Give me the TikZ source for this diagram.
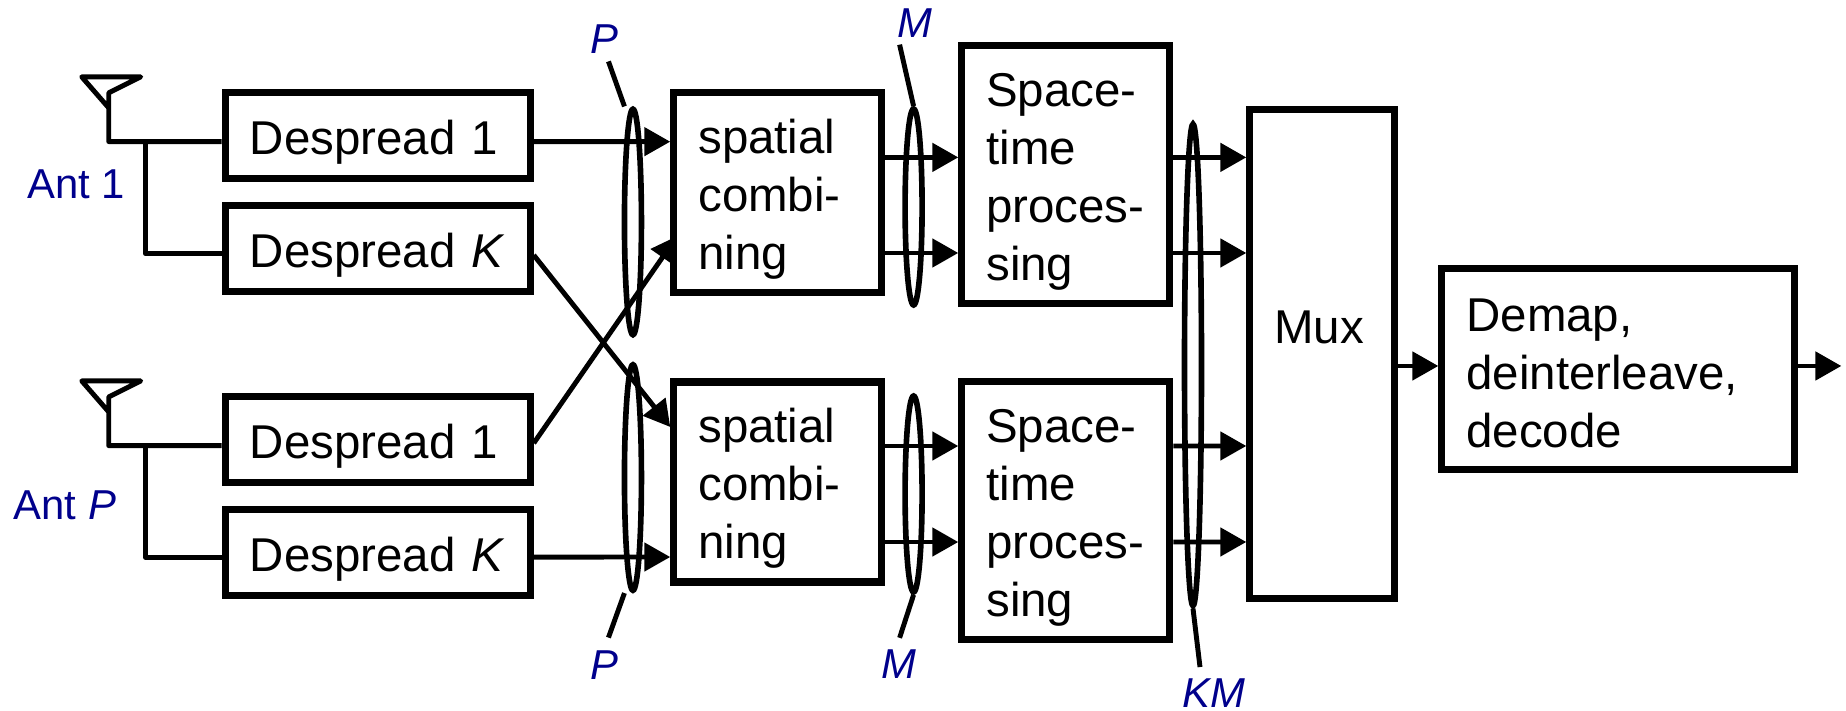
\documentclass[tikz,border=0pt]{standalone}
\usepackage{fontspec}
\setmainfont{Liberation Sans}
\usepackage{tikz}
\usepackage{xcolor}
\usetikzlibrary{positioning, calc, arrows.meta, shapes.geometric, backgrounds}
\definecolor{antblue}{RGB}{0,0,140}

\begin{document}
\begin{tikzpicture}[
        % Style definitions
        block/.style={
            rectangle,
            draw=black,
            line width=2pt,
            inner xsep=0.245cm,
            inner ysep=0pt,
            align=left,
            fill=white,
            font=\fontsize{13.5}{16.5}\selectfont,
            execute at begin node={\rule{0pt}{#1}}
        },
        block/.default=13.5pt,
        wire/.style={
            line width=1.4pt,
            line join=round
        },
        arrow/.style={
            -{Triangle[length=0.26cm, width=0.28cm]},
            line width=1.4pt
        },
        bundle/.style={
            ellipse,
            draw=black,
            line width=1.6pt,
            inner sep=0pt,
            minimum width=0.17cm
        },
        tag/.style={
            inner sep=0pt,
            text=antblue,
            font=\fontsize{11.9}{14}\selectfont
        }
    ]
        \useasboundingbox (0,0) rectangle (18.46,7.11);

        % ==========================================
        % Nodes / Blocks Placement
        % ==========================================
        % Despreaders of both antennas
        \node (dsp1a) at (3.7775,5.754) [block, text width=2.56cm, minimum height=0.86cm] {Despread 1};
        \node (dspka) [block, text width=2.56cm, minimum height=0.86cm, below=0.2cm of dsp1a] {Despread \textit{K}};
        \node (dsp1b) [block, text width=2.56cm, minimum height=0.86cm, below=0.98cm of dspka] {Despread 1};
        \node (dspkb) [block, text width=2.56cm, minimum height=0.86cm, below=0.2cm of dsp1b] {Despread \textit{K}};

        % Spatial combining blocks
        \node (spata) [block, text width=1.59cm, minimum height=2cm, right=1.365cm of dsp1a, yshift=-0.574cm] {spatial\\combi-\\ning};
        \node (spatb) [block, text width=1.59cm, minimum height=2cm, below=0.82cm of spata] {spatial\\combi-\\ning};

        % Space-time blocks
        \node (sta) [block, text width=1.59cm, minimum height=2.58cm, right=0.73cm of spata, yshift=0.185cm] {Space-\\time\\proces-\\sing};
        \node (stb) [block, text width=1.59cm, minimum height=2.58cm, below=0.71cm of sta] {Space-\\time\\proces-\\sing};

        % Mux and the last block
        \node (mux) [block=10.8pt, text width=0.96cm, minimum height=4.89cm, right=0.73cm of sta, yshift=-1.795cm] {Mux\\~};
        \node (demap) [block=11.8pt, text width=3.04cm, minimum height=2.01cm, right=0.4cm of mux, yshift=-0.15cm] {Demap,\\deinterleave,\\decode};

        % Bundles
        \node (bunpa) [bundle, minimum height=2.255cm, left=0.26cm of spata, yshift=-0.29cm] {};
        \node (bunpb) [bundle, minimum height=2.255cm, left=0.26cm of spatb, yshift=0.045cm] {};
        \node (bunma) [bundle, minimum height=1.96cm, right=0.17cm of spata, yshift=-0.14cm] {};
        \node (bunmb) [bundle, minimum height=1.96cm, right=0.17cm of spatb, yshift=-0.12cm] {};
        \node (bunkm) [bundle, minimum height=4.815cm, left=0.42cm of mux, yshift=-0.11cm] {};

        % Bundle labels
        \node (lblpa) [tag, above=0.52cm of bunpa, xshift=-0.285cm] {\textit{P}};
        \node (lblpb) [tag, below=0.565cm of bunpb, xshift=-0.285cm] {\textit{P}};
        \node (lblma) [tag, above=0.675cm of bunma, xshift=0.015cm] {\textit{M}};
        \node (lblmb) [tag, below=0.54cm of bunmb, xshift=-0.145cm] {\textit{M}};
        \node (lblkm) [tag, below=0.695cm of bunkm, xshift=0.21cm] {\textit{KM}};

        % Antenna feet and branch points
        \coordinate (anta) at ([xshift=-1.13cm, yshift=-0.06cm]dsp1a.west);
        \coordinate (antb) at ([xshift=-1.13cm, yshift=-0.06cm]dsp1b.west);
        \coordinate (joina) at ([xshift=-0.765cm, yshift=-0.06cm]dsp1a.west);
        \coordinate (joinb) at ([xshift=-0.765cm, yshift=-0.06cm]dsp1b.west);
        \coordinate (out) at ([xshift=0.43cm, yshift=0.03cm]demap.east);

        % Antenna labels
        \node (lbla) [tag, below left=0.275cm and 0.15cm of anta, xshift=0.32cm] {Ant 1};
        \node (lblb) [tag, below left=0.44cm and 0.2cm of antb, xshift=0.28cm] {Ant \textit{P}};

        % ==========================================
        % Connections / Arrows
        % ==========================================
        % Antennas
        \draw [wire] ([yshift=-0.06cm]dsp1a.west) -- (anta) -- ++(0,0.487) -- ++(0.32,0.16) -- ++(-0.59,0) -- ++(0.27,-0.31);
        \draw [wire] ([yshift=-0.06cm]dsp1b.west) -- (antb) -- ++(0,0.487) -- ++(0.32,0.16) -- ++(-0.59,0) -- ++(0.27,-0.31);
        \draw [wire] (joina) |- ([yshift=-0.05cm]dspka.west);
        \draw [wire] (joinb) |- ([yshift=-0.044cm]dspkb.west);

        % Despreaders to spatial combining
        \draw [arrow] ([yshift=-0.06cm]dsp1a.east) -- ([yshift=0.513cm]spata.west);
        \draw [arrow] ([yshift=-0.044cm]dspkb.east) -- ([yshift=-0.75cm]spatb.west);

        % Crossing paths go under the blocks
        \begin{scope}[on background layer]
            \draw [arrow] ([yshift=-0.065cm]dspka.east) -- ([yshift=0.55cm]spatb.west);
            \draw [arrow] ([yshift=-0.035cm]dsp1b.east) -- ([xshift=0.07cm, yshift=-0.43cm]spata.west);
        \end{scope}

        % Spatial combining to space-time
        \draw [arrow] ([yshift=0.356cm]spata.east) -- ([yshift=0.171cm]sta.west);
        \draw [arrow] ([yshift=-0.6cm]spata.east) -- ([yshift=-0.785cm]sta.west);
        \draw [arrow] ([yshift=0.36cm]spatb.east) -- ([yshift=0.645cm]stb.west);
        \draw [arrow] ([yshift=-0.6cm]spatb.east) -- ([yshift=-0.315cm]stb.west);

        % Space-time to Mux
        \draw [arrow] ([yshift=0.171cm]sta.east) -- ([yshift=1.966cm]mux.west);
        \draw [arrow] ([yshift=-0.785cm]sta.east) -- ([yshift=1.01cm]mux.west);
        \draw [arrow] ([yshift=0.645cm]stb.east) -- ([yshift=-0.92cm]mux.west);
        \draw [arrow] ([yshift=-0.315cm]stb.east) -- ([yshift=-1.88cm]mux.west);

        % Mux to the last block, and the output
        \draw [arrow] ([yshift=-0.12cm]mux.east) -- ([yshift=0.03cm]demap.west);
        \draw [arrow] ([yshift=0.03cm]demap.east) -- (out);

        % Bundle label ticks
        \draw [wire] ([xshift=0.04cm, yshift=-0.07cm]lblpa.south) -- ([xshift=-0.085cm]bunpa.north);
        \draw [wire] ([xshift=0.04cm, yshift=0.12cm]lblpb.north) -- ([xshift=-0.085cm]bunpb.south);
        \draw [wire] ([xshift=-0.155cm, yshift=-0.06cm]lblma.south) -- (bunma.north);
        \draw [wire] ([xshift=0.005cm, yshift=0.11cm]lblmb.north) -- (bunmb.south);
        \draw [wire] ([xshift=-0.14cm, yshift=0.11cm]lblkm.north) -- (bunkm.south);

    \end{tikzpicture}
\end{document}
